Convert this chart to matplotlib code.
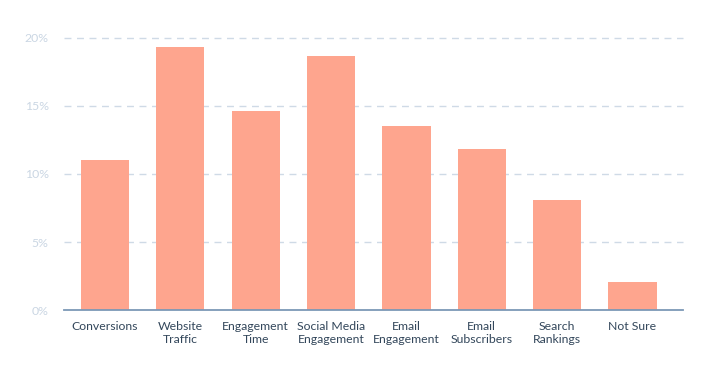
import matplotlib.pyplot as plt
import numpy as np

plt.rcParams['font.family'] = ['Lato', 'DejaVu Sans']

categories = ["Conversions", "Website\nTraffic", "Engagement\nTime", "Social Media\nEngagement",
              "Email\nEngagement", "Email\nSubscribers", "Search\nRankings", "Not Sure"]
values = [11.0, 19.3, 14.6, 18.7, 13.5, 11.8, 8.1, 2.1]
yticks = [0, 5, 10, 15, 20]
ytick_labels = ["0%", "5%", "10%", "15%", "20%"]

fig = plt.figure(figsize=(7.1, 3.71), dpi=100)
ax = fig.add_axes([0.090, 0.164, 0.872, 0.734])

x = np.arange(len(categories))
ax.bar(x, values, width=0.64, color="#FEA58E", zorder=3)

ax.set_xlim(-0.545, 7.67)
ax.set_ylim(0, 20)
ax.set_yticks(yticks)
ax.set_yticklabels(ytick_labels)
ax.set_xticks(x)
ax.set_xticklabels(categories, fontsize=8.8, color="#33475B", linespacing=1.2)

# dashed grid lines
for t in yticks[1:]:
    ax.axhline(t, color="#CFDAE6", linestyle=(0, (5, 4)), linewidth=1, zorder=1, clip_on=False)

for s in ["top", "right", "left"]:
    ax.spines[s].set_visible(False)
ax.spines["bottom"].set_color("#7C98B6")
ax.spines["bottom"].set_linewidth(1.3)
ax.spines["bottom"].set_zorder(4)

ax.tick_params(axis="y", length=0, pad=11, labelsize=8.8, labelcolor="#CAD6E3")
ax.tick_params(axis="x", length=0, pad=8)

plt.savefig("out.png", dpi=100)
